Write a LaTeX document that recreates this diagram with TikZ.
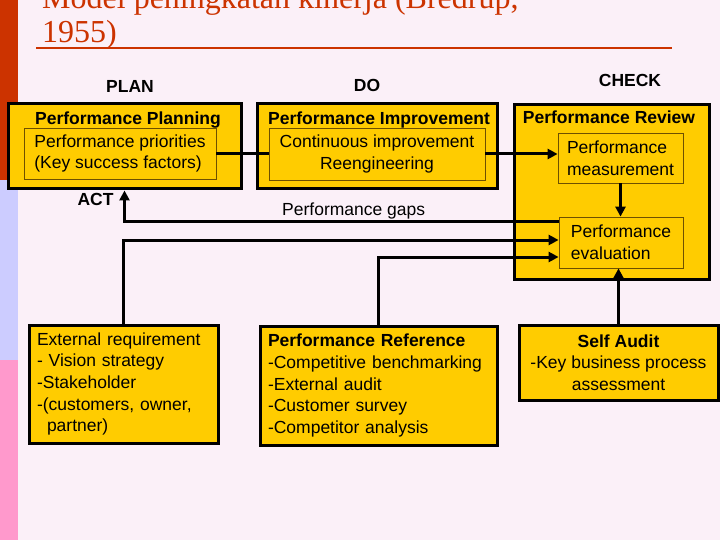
\documentclass[tikz,border=0pt]{standalone}
\usepackage{fontspec}
\setsansfont{Liberation Sans}
\newfontfamily\titleserif{Liberation Serif}
\usetikzlibrary{arrows.meta}

\definecolor{pagebg}{RGB}{251,240,248}
\definecolor{stripered}{RGB}{204,51,0}
\definecolor{stripeblue}{RGB}{204,204,255}
\definecolor{stripepink}{RGB}{255,153,204}
\definecolor{titlered}{RGB}{204,51,0}
\definecolor{boxyellow}{RGB}{255,204,0}
\definecolor{innerline}{RGB}{110,80,0}

\begin{document}
\begin{tikzpicture}[x=1pt, y=-1pt,
  every node/.style={font=\sffamily\fontsize{17.5}{21.7}\selectfont, inner sep=0pt},
  bold/.style={font=\sffamily\bfseries\fontsize{17.5}{21.7}\selectfont},
  outerbox/.style={draw, line width=3pt, fill=boxyellow},
  innerbox/.style={draw=innerline, line width=0.8pt, fill=boxyellow, align=left},
  conn/.style={line width=3pt},
  arr/.style={conn, -{Triangle[length=10pt, width=10pt]}}]

\useasboundingbox (0,0) rectangle (720,540);
\fill[pagebg] (0,0) rectangle (720,540); % background
\fill[stripered] (0,0) rectangle (18,180); % stripe.1
\fill[stripeblue] (0,180) rectangle (18,360); % stripe.2
\fill[stripepink] (0,360) rectangle (18,540); % stripe.3

% title
\node[font=\titleserif\fontsize{32}{34}\selectfont, text=titlered, align=left, anchor=south west] (title) at (42,50) {Model peningkatan kinerja (Bredrup,\\1955)};
\draw[titlered, line width=2pt] (36,48) -- (672,48); % title rule

% column heads
\node[bold, anchor=base] (planhead) at (130,93) {PLAN};
\node[bold, anchor=base] (dohead) at (367,92) {DO};
\node[bold, anchor=base] (checkhead) at (630,87) {CHECK};

% PLAN
\node[outerbox, minimum width=233pt, minimum height=85pt] (plan) at (124.5,146.5) {};
\node[bold, anchor=base] (plantitle) at (128,125) {Performance Planning};
\node[innerbox, minimum width=192pt, minimum height=51pt] (prio) at (120,153.5) {Performance priorities\\(Key success factors)};

% DO
\node[outerbox, minimum width=240pt, minimum height=85pt] (do) at (377,146.5) {};
\node[bold, anchor=base] (dotitle) at (379,125) {Performance Improvement};
\node[innerbox, align=center, minimum width=216pt, minimum height=52pt] (cont) at (377,154) {Continuous improvement\\Reengineering};

% CHECK
\node[outerbox, minimum width=195pt, minimum height=174pt] (check) at (611.5,192) {};
\node[bold, anchor=base] (checktitle) at (609,124) {Performance Review};
\node[innerbox, minimum width=125pt, minimum height=50pt] (meas) at (620.5,158) {Performance\\measurement};
\node[innerbox, minimum width=124pt, minimum height=51pt] (eval) at (621,242.5) {Performance\\evaluation};

% inputs
\node[outerbox, text width=173pt, inner xsep=8pt, align=left, minimum height=118pt] (ext) at (123.5,384) {External requirement\\- Vision strategy\\-Stakeholder\\-(customers, owner,\\\hspace*{10pt}partner)};
\node[outerbox, text width=221pt, inner xsep=8pt, align=left, minimum height=119pt] (ref) at (378.5,385.5) {\textbf{Performance Reference}\\-Competitive benchmarking\\-External audit\\-Customer survey\\-Competitor analysis};
\node[outerbox, align=center, minimum width=199pt, minimum height=75pt] (self) at (618.5,362.5) {\textbf{Self Audit}\\-Key business process\\assessment};

% labels
\node[bold, anchor=base] (act) at (95.5,206) {ACT};
\node[anchor=base west] (gaps) at (282,215) {Performance gaps};

% connectors
\draw[conn] (prio.east) -- (prio.east -| cont.west); % plan to do
\draw[arr] (cont.east) -- (cont.east -| meas.west); % do to check
\draw[arr] (meas.south) -- (meas.south |- eval.north); % measure to evaluate
\draw[arr] ([yshift=-5pt]eval.north west) -| (plan.south); % gaps back to plan
\draw[arr] (ext.north) |- ([yshift=2.5pt]eval.west); % external input
\draw[arr] (ref.north) |- ([yshift=-14.5pt]eval.west); % reference input
\draw[arr] (self.north) -- (self.north |- eval.south); % self audit input

\end{tikzpicture}
\end{document}
